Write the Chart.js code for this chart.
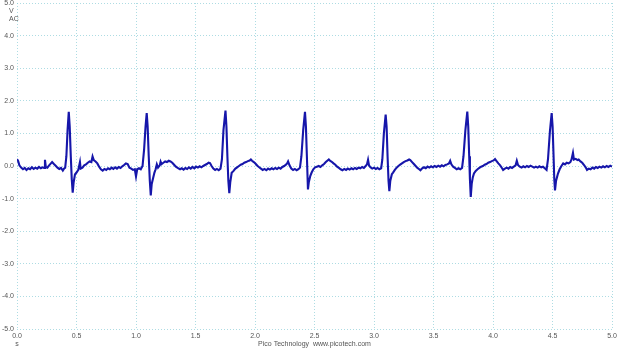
<!DOCTYPE html>
<html>
<head>
<meta charset="utf-8">
<script src="https://cdn.jsdelivr.net/npm/chart.js@4"></script>
<style>
  html, body { margin: 0; padding: 0; background: #fff; }
  #wrap { position: relative; width: 620px; height: 348px; }
</style>
</head>
<body>
<div id="wrap"><canvas id="scope"></canvas></div>
<script>
// time axis (s) and channel A voltage (V)
const timeS = [
  0.000, 0.010, 0.020, 0.035, 0.050, 0.065, 0.080, 0.095, 0.110, 0.125, 0.140, 0.155, 0.170, 0.185, 0.200, 0.215, 0.228, 0.235, 0.242, 0.255,
  0.270, 0.285, 0.295, 0.310, 0.325, 0.340, 0.355, 0.370, 0.385, 0.395, 0.405, 0.415, 0.425, 0.435, 0.443, 0.452, 0.460, 0.468, 0.476, 0.487,
  0.500, 0.515, 0.529, 0.535, 0.550, 0.565, 0.580, 0.595, 0.610, 0.625, 0.635, 0.645, 0.660, 0.675, 0.690, 0.705, 0.720, 0.735, 0.750, 0.765,
  0.780, 0.795, 0.810, 0.825, 0.840, 0.855, 0.870, 0.885, 0.900, 0.915, 0.930, 0.945, 0.960, 0.975, 0.990, 1.000, 1.010, 1.025, 1.040, 1.055,
  1.068, 1.080, 1.090, 1.098, 1.107, 1.116, 1.124, 1.132, 1.143, 1.155, 1.165, 1.175, 1.185, 1.200, 1.207, 1.215, 1.230, 1.245, 1.260, 1.275,
  1.290, 1.305, 1.320, 1.335, 1.350, 1.370, 1.385, 1.400, 1.415, 1.430, 1.445, 1.460, 1.475, 1.490, 1.505, 1.520, 1.535, 1.550, 1.565, 1.580,
  1.595, 1.610, 1.622, 1.635, 1.650, 1.665, 1.680, 1.695, 1.710, 1.722, 1.735, 1.752, 1.760, 1.768, 1.776, 1.784, 1.792, 1.804, 1.820, 1.835,
  1.850, 1.865, 1.880, 1.895, 1.910, 1.925, 1.940, 1.955, 1.965, 1.975, 1.990, 2.005, 2.020, 2.035, 2.050, 2.065, 2.080, 2.095, 2.110, 2.125,
  2.140, 2.155, 2.170, 2.185, 2.200, 2.215, 2.230, 2.245, 2.260, 2.270, 2.278, 2.290, 2.305, 2.320, 2.335, 2.350, 2.365, 2.378, 2.390, 2.405,
  2.420, 2.428, 2.436, 2.445, 2.452, 2.465, 2.476, 2.490, 2.505, 2.520, 2.535, 2.550, 2.565, 2.580, 2.595, 2.610, 2.620, 2.630, 2.645, 2.660,
  2.675, 2.690, 2.705, 2.720, 2.735, 2.750, 2.765, 2.780, 2.795, 2.810, 2.825, 2.840, 2.855, 2.870, 2.885, 2.900, 2.915, 2.930, 2.942, 2.950,
  2.958, 2.970, 2.985, 3.000, 3.015, 3.030, 3.045, 3.060, 3.070, 3.083, 3.098, 3.106, 3.114, 3.122, 3.129, 3.137, 3.150, 3.160, 3.175, 3.190,
  3.205, 3.220, 3.235, 3.250, 3.265, 3.280, 3.295, 3.305, 3.320, 3.335, 3.350, 3.365, 3.380, 3.390, 3.405, 3.420, 3.435, 3.450, 3.465, 3.480,
  3.495, 3.510, 3.525, 3.540, 3.555, 3.570, 3.585, 3.600, 3.615, 3.630, 3.640, 3.650, 3.665, 3.680, 3.695, 3.710, 3.725, 3.740, 3.752, 3.768,
  3.784, 3.792, 3.800, 3.806, 3.813, 3.821, 3.830, 3.840, 3.855, 3.870, 3.885, 3.900, 3.915, 3.930, 3.945, 3.960, 3.975, 3.990, 4.005, 4.017,
  4.030, 4.045, 4.060, 4.075, 4.085, 4.100, 4.115, 4.130, 4.145, 4.160, 4.175, 4.190, 4.200, 4.210, 4.225, 4.240, 4.255, 4.270, 4.285, 4.300,
  4.315, 4.330, 4.345, 4.360, 4.375, 4.390, 4.405, 4.420, 4.435, 4.450, 4.462, 4.478, 4.493, 4.501, 4.509, 4.515, 4.521, 4.530, 4.546, 4.560,
  4.575, 4.590, 4.605, 4.620, 4.635, 4.650, 4.660, 4.672, 4.680, 4.695, 4.710, 4.720, 4.735, 4.750, 4.765, 4.780, 4.790, 4.805, 4.820, 4.835,
  4.850, 4.865, 4.880, 4.895, 4.910, 4.925, 4.940, 4.955, 4.970, 4.985, 5.000
];
const voltV = [
  0.21, 0.15, 0.02, -0.05, -0.10, -0.06, -0.12, -0.07, -0.10, -0.04, -0.09, -0.05, -0.08, -0.03, -0.07, -0.04, -0.06, 0.19, -0.03, -0.05,
  0.02, 0.08, 0.12, 0.06, 0.01, -0.05, -0.09, -0.06, -0.14, -0.08, -0.05, 0.30, 1.10, 1.66, 1.20, 0.30, -0.40, -0.82, -0.50, -0.26,
  -0.20, -0.12, 0.12, -0.08, -0.05, 0.02, 0.05, 0.10, 0.14, 0.12, 0.29, 0.18, 0.14, 0.08, -0.02, -0.10, -0.14, -0.09, -0.12, -0.07,
  -0.10, -0.05, -0.09, -0.04, -0.08, -0.03, -0.06, -0.01, 0.03, 0.08, 0.06, -0.05, -0.08, -0.12, -0.10, -0.32, -0.10, -0.07, -0.10, 0.00,
  0.50, 1.20, 1.62, 1.20, 0.30, -0.45, -0.90, -0.55, -0.38, -0.20, -0.10, 0.05, -0.05, 0.02, 0.13, 0.06, 0.10, 0.14, 0.12, 0.16,
  0.14, 0.10, 0.04, -0.02, -0.06, -0.10, -0.07, -0.11, -0.06, -0.09, -0.04, -0.08, -0.03, -0.07, -0.02, -0.05, -0.01, -0.04, 0.00, 0.03,
  0.06, 0.10, 0.09, 0.00, -0.08, -0.12, -0.09, -0.13, -0.08, 0.20, 1.10, 1.70, 1.20, 0.30, -0.45, -0.83, -0.50, -0.21, -0.15, -0.08,
  -0.04, 0.00, 0.04, 0.06, 0.10, 0.12, 0.15, 0.17, 0.20, 0.16, 0.12, 0.07, 0.01, -0.04, -0.08, -0.12, -0.09, -0.13, -0.08, -0.11,
  -0.07, -0.10, -0.06, -0.09, -0.05, -0.08, -0.03, 0.00, 0.04, 0.08, 0.14, 0.02, -0.08, -0.12, -0.09, -0.13, -0.10, -0.05, 0.30, 1.10,
  1.66, 1.20, 0.30, -0.72, -0.50, -0.30, -0.20, -0.10, -0.04, -0.02, 0.00, -0.03, 0.02, 0.06, 0.12, 0.17, 0.20, 0.16, 0.13, 0.08,
  0.04, -0.02, -0.06, -0.10, -0.13, -0.09, -0.12, -0.08, -0.11, -0.07, -0.10, -0.06, -0.09, -0.05, -0.07, -0.03, -0.06, 0.00, 0.06, 0.19,
  0.02, -0.04, -0.08, -0.05, -0.09, -0.06, -0.10, -0.07, 0.20, 1.00, 1.58, 1.20, 0.30, -0.45, -0.77, -0.45, -0.25, -0.20, -0.12, -0.05,
  0.00, 0.04, 0.08, 0.12, 0.15, 0.17, 0.20, 0.18, 0.12, 0.06, 0.00, -0.06, -0.10, -0.13, -0.07, -0.04, -0.07, -0.02, -0.05, -0.01,
  -0.04, 0.00, -0.03, 0.01, -0.02, 0.02, -0.01, 0.03, 0.05, 0.08, 0.16, 0.05, -0.02, -0.06, -0.10, -0.07, -0.10, -0.06, 0.30, 1.10,
  1.67, 1.20, 0.30, -0.40, -0.95, -0.55, -0.35, -0.23, -0.15, -0.10, -0.06, -0.02, 0.00, 0.04, 0.06, 0.10, 0.12, 0.15, 0.17, 0.21,
  0.15, 0.08, 0.02, -0.06, -0.12, -0.08, -0.05, -0.08, -0.03, -0.06, -0.02, 0.02, 0.16, 0.03, -0.02, -0.05, -0.01, -0.04, 0.00, -0.03,
  0.01, -0.02, -0.05, -0.02, -0.05, -0.01, -0.04, -0.02, -0.07, -0.12, 0.20, 1.05, 1.62, 1.20, 0.30, -0.40, -0.75, -0.45, -0.23, -0.10,
  0.00, 0.08, 0.05, 0.10, 0.08, 0.12, 0.20, 0.40, 0.20, 0.22, 0.18, 0.20, 0.14, 0.10, 0.03, -0.05, -0.12, -0.08, -0.10, -0.05,
  -0.08, -0.03, -0.06, -0.02, -0.05, -0.01, -0.04, 0.00, -0.03, 0.01, -0.02
];
const xTicks = [0, 0.5, 1.0, 1.5, 2.0, 2.5, 3.0, 3.5, 4.0, 4.5, 5.0];
const yTicks = [-5, -4, -3, -2, -1, 0, 1, 2, 3, 4, 5];

const gridColor = 'rgba(140,205,215,0.7)';
const tickFont = { family: 'Liberation Sans, Arial, sans-serif', size: 7 };

// extra captions the scope puts round the plot
const captions = {
  id: 'captions',
  afterDraw(chart) {
    const { ctx, chartArea } = chart;
    ctx.save();
    ctx.fillStyle = '#555';
    ctx.font = '7px Liberation Sans, Arial, sans-serif';
    ctx.textAlign = 'left';
    ctx.textBaseline = 'middle';
    ctx.fillText('V', 9, 11);
    ctx.fillText('AC', 9, 19);
    ctx.textAlign = 'center';
    ctx.fillText('s', chartArea.left, 344);
    ctx.fillText('Pico Technology  www.picotech.com', (chartArea.left + chartArea.right) / 2, 344);
    ctx.restore();
  }
};

const points = timeS.map((t, i) => ({ x: t, y: voltV[i] }));

new Chart(document.getElementById('scope'), {
  type: 'line',
  data: {
    datasets: [{
      label: 'Channel A',
      data: points,
      borderColor: '#1616aa',
      borderWidth: 2.1,
      pointRadius: 0,
      tension: 0,
      fill: false
    }]
  },
  options: {
    responsive: true,
    maintainAspectRatio: false,
    animation: false,
    layout: { padding: { top: 3, right: 8, left: 0, bottom: 0 } },
    plugins: { legend: { display: false }, tooltip: { enabled: false } },
    scales: {
      x: {
        type: 'linear',
        min: 0, max: 5,
        afterBuildTicks: s => { s.ticks = xTicks.map(v => ({ value: v })); },
        afterFit: s => { s.height = 19; s.paddingLeft = 0; s.paddingRight = 0; },
        ticks: { font: tickFont, color: '#555', padding: 3, maxRotation: 0, callback: v => v.toFixed(1) },
        grid: { color: gridColor, drawTicks: false, lineWidth: 1 },
        border: { display: false, dash: [1, 2] }
      },
      y: {
        min: -5, max: 5,
        afterBuildTicks: s => { s.ticks = yTicks.map(v => ({ value: v })); },
        afterFit: s => { s.width = 17; s.paddingTop = 0; s.paddingBottom = 0; },
        ticks: { font: tickFont, color: '#555', padding: 3, callback: v => v.toFixed(1) },
        grid: { color: gridColor, drawTicks: false, lineWidth: 1 },
        border: { display: false, dash: [1, 2] }
      }
    }
  },
  plugins: [captions]
});
</script>
</body>
</html>
